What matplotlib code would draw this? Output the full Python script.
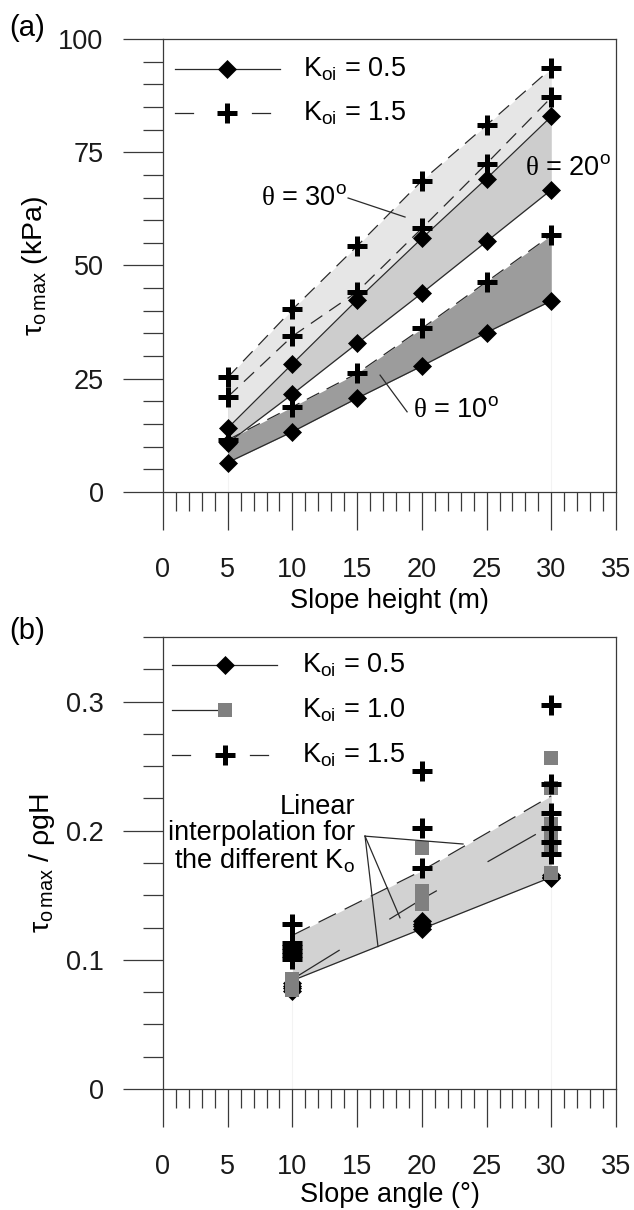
import matplotlib
matplotlib.use("Agg")
import matplotlib.pyplot as plt
from matplotlib.ticker import MultipleLocator, FuncFormatter

plt.rcParams['font.family'] = ['Liberation Sans', 'DejaVu Sans']
plt.rcParams['mathtext.fontset'] = 'custom'
plt.rcParams['mathtext.rm'] = 'Liberation Sans'
plt.rcParams['mathtext.it'] = 'Liberation Sans:italic'
plt.rcParams['mathtext.bf'] = 'Liberation Sans:bold'
plt.rcParams['mathtext.sf'] = 'Liberation Serif'
plt.rcParams['lines.scale_dashes'] = False

# ---- (a) maximum shear stress vs slope height ----
heights = [5, 10, 15, 20, 25, 30]
tau_t10_k05 = [6.5, 13.3, 20.7, 27.8, 35.2, 42.2]
tau_t10_k15 = [11.5, 18.8, 26.2, 36.1, 46.4, 56.7]
tau_t20_k05 = [10.8, 21.6, 32.8, 43.9, 55.3, 66.7]
tau_t20_k15 = [21.0, 34.4, 44.2, 58.2, 72.5, 87.1]
tau_t30_k05 = [14.1, 28.3, 42.4, 56.0, 69.2, 82.9]
tau_t30_k15 = [25.3, 40.3, 54.3, 68.7, 81.0, 93.5]

# ---- (b) normalised shear stress vs slope angle ----
k05_ang = [10, 10, 10, 10, 20, 20, 20, 20, 30, 30, 30]
k05_val = [0.076, 0.078, 0.080, 0.082, 0.124, 0.126, 0.128, 0.130, 0.163, 0.164, 0.166]
k10_ang = [10, 10, 10, 10, 10, 20, 20, 20, 20, 20, 30, 30, 30, 30, 30, 30]
k10_val = [0.077, 0.079, 0.081, 0.083, 0.085, 0.187, 0.153, 0.149, 0.146, 0.143,
           0.256, 0.233, 0.205, 0.195, 0.185, 0.167]
k15_ang = [10, 10, 10, 10, 10, 10, 20, 20, 20, 30, 30, 30, 30, 30, 30]
k15_val = [0.128, 0.113, 0.110, 0.107, 0.104, 0.101, 0.246, 0.202, 0.171,
           0.297, 0.236, 0.214, 0.202, 0.191, 0.182]
interp_ang = [10, 20, 30]
interp_k05 = [0.084, 0.124, 0.164]
interp_k10 = [0.085, 0.147, 0.204]
interp_k15 = [0.119, 0.169, 0.227]

FS = 19.5
LC = '#2a2a2a'
LW = 0.9
DASH_A = (0, (10, 6))
DASH_B = (0, (14, 7))
DASH_K10 = (0, (40, 42))

diamond = dict(marker='D', ms=9.5, mfc='black', mec='black', mew=0.5, ls='none')
plus = dict(marker='+', ms=14, mec='black', mew=3.6, ls='none')
square = dict(marker='s', ms=10, mfc='#808080', mec='#808080', mew=0, ls='none')

fig = plt.figure(figsize=(6.34, 12.10), dpi=100)
W, H = 634, 1210
L, R = 163, 616
ax_a = fig.add_axes([L / W, 1 - 492 / H, (R - L) / W, (492 - 39) / H])
ax_b = fig.add_axes([L / W, 1 - 1089 / H, (R - L) / W, (1089 - 637) / H])


def style_axes(ax, ymajor, yminor):
    ax.set_xlim(0, 35)
    ax.xaxis.set_major_locator(MultipleLocator(5))
    ax.xaxis.set_minor_locator(MultipleLocator(1))
    ax.yaxis.set_major_locator(MultipleLocator(ymajor))
    ax.yaxis.set_minor_locator(MultipleLocator(yminor))
    for s in ax.spines.values():
        s.set_color('#3a3a3a')
        s.set_linewidth(0.9)
    ax.tick_params(axis='both', which='both', direction='out', color='#3a3a3a',
                   width=0.9, labelsize=FS, labelcolor='#1a1a1a', top=False, right=False)
    ax.tick_params(axis='x', which='major', length=27.5, pad=19)
    ax.tick_params(axis='x', which='minor', length=13.5)
    ax.tick_params(axis='y', which='major', length=28.8, pad=14)
    ax.tick_params(axis='y', which='minor', length=14.4)


# ===== panel (a) =====
ax = ax_a
style_axes(ax, 25, 5)
ax.set_ylim(0, 100)

ax.fill_between(heights, tau_t10_k05, tau_t10_k15, color='#9c9c9c', lw=0, zorder=1)
ax.fill_between(heights, tau_t20_k05, tau_t20_k15, color='#cdcdcd', lw=0, zorder=1.1)
ax.fill_between(heights, tau_t30_k05, tau_t30_k15, color='#e6e6e6', lw=0, zorder=1.2)
ax.vlines([heights[0], heights[-1]], 0, [tau_t10_k05[0], tau_t10_k05[-1]],
          color='#f3f3f3', lw=0.8, zorder=0.5)

for low, high in [(tau_t10_k05, tau_t10_k15), (tau_t20_k05, tau_t20_k15),
                  (tau_t30_k05, tau_t30_k15)]:
    ax.plot(heights, low, color=LC, lw=LW, zorder=2)
    ax.plot(heights, high, color=LC, lw=LW, ls=DASH_A, zorder=2)
for low in (tau_t10_k05, tau_t20_k05, tau_t30_k05):
    ax.plot(heights, low, zorder=3, **diamond)
for high in (tau_t10_k15, tau_t20_k15, tau_t30_k15):
    ax.plot(heights, high, zorder=4, **plus)

ax.text(14.2, 65.0, r'$\mathsf{\theta}$ = 30$^{\mathrm{o}}$', fontsize=FS,
        ha='right', va='center')
ax.plot([14.3, 18.7], [64.9, 60.7], color=LC, lw=LW, zorder=5)
ax.text(28.0, 71.5, r'$\mathsf{\theta}$ = 20$^{\mathrm{o}}$', fontsize=FS,
        ha='left', va='center', clip_on=False)
ax.text(19.3, 18.1, r'$\mathsf{\theta}$ = 10$^{\mathrm{o}}$', fontsize=FS,
        ha='left', va='center')
ax.plot([16.77, 18.86], [25.8, 17.7], color=LC, lw=LW, zorder=5)

# legend drawn in axes fraction
tr = ax.transAxes
ax.plot([0.0265, 0.258], [0.934, 0.934], color=LC, lw=LW, transform=tr)
ax.plot([0.141], [0.934], transform=tr, **diamond)
ax.text(0.309, 0.934, r'$\mathrm{K_{oi}}$ = 0.5', transform=tr, fontsize=FS, va='center')
ax.plot([0.0265, 0.066], [0.837, 0.837], color=LC, lw=LW, transform=tr)
ax.plot([0.197, 0.236], [0.837, 0.837], color=LC, lw=LW, transform=tr)
ax.plot([0.141], [0.837], transform=tr, **plus)
ax.text(0.309, 0.837, r'$\mathrm{K_{oi}}$ = 1.5', transform=tr, fontsize=FS, va='center')

ax.set_xlabel('Slope height (m)', fontsize=FS, labelpad=4)
ax.set_ylabel(r'$\mathrm{\tau_{o\,max}}$ (kPa)', fontsize=FS + 1, labelpad=6)
fig.text(9 / W, 1 - 28 / H, '(a)', fontsize=FS + 1.5, ha='left', va='center')

# ===== panel (b) =====
ax = ax_b
style_axes(ax, 0.1, 0.025)
ax.set_ylim(0, 0.35)
ax.yaxis.set_major_formatter(FuncFormatter(lambda v, p: '0' if abs(v) < 1e-9 else f'{v:.1f}'))

ax.fill_between(interp_ang, interp_k05, interp_k15, color='#d2d2d2', lw=0, zorder=1)
ax.vlines([interp_ang[0], interp_ang[-1]], 0, [min(k05_val[:4]), min(k05_val[-3:])],
          color='#f3f3f3', lw=0.8, zorder=0.5)
ax.plot(interp_ang, interp_k05, color=LC, lw=LW, zorder=2)
ax.plot(interp_ang, interp_k10, color=LC, lw=LW, ls=DASH_K10, zorder=2)
ax.plot(interp_ang, interp_k15, color=LC, lw=LW, ls=DASH_B, zorder=2)

ax.plot(k05_ang, k05_val, zorder=3, **diamond)
ax.plot(k10_ang, k10_val, zorder=4, **square)
ax.plot(k15_ang, k15_val, zorder=5, **plus)

ax.text(14.84, 0.197, 'Linear\ninterpolation for\nthe different $\\mathrm{K_o}$',
        fontsize=FS, ha='right', va='center', multialignment='right', linespacing=1.02)
for xe, ye in [(23.18, 0.1897), (18.31, 0.1326), (16.61, 0.1103)]:
    ax.plot([15.61, xe], [0.1958, ye], color=LC, lw=LW, zorder=6)

tr = ax.transAxes
ax.plot([0.02, 0.252], [0.938, 0.938], color=LC, lw=LW, transform=tr)
ax.plot([0.137], [0.938], transform=tr, **diamond)
ax.text(0.307, 0.938, r'$\mathrm{K_{oi}}$ = 0.5', transform=tr, fontsize=FS, va='center')
ax.plot([0.02, 0.125], [0.838, 0.838], color=LC, lw=LW, transform=tr)
ax.plot([0.137], [0.838], transform=tr, **square)
ax.text(0.307, 0.838, r'$\mathrm{K_{oi}}$ = 1.0', transform=tr, fontsize=FS, va='center')
ax.plot([0.02, 0.06], [0.739, 0.739], color=LC, lw=LW, transform=tr)
ax.plot([0.192, 0.232], [0.739, 0.739], color=LC, lw=LW, transform=tr)
ax.plot([0.137], [0.739], transform=tr, **plus)
ax.text(0.307, 0.739, r'$\mathrm{K_{oi}}$ = 1.5', transform=tr, fontsize=FS, va='center')

ax.set_xlabel('Slope angle (°)', fontsize=FS, labelpad=2)
ax.set_ylabel(r'$\mathrm{\tau_{o\,max}}$ / $\mathrm{\rho}$gH', fontsize=FS + 1, labelpad=6)
fig.text(9 / W, 1 - 631 / H, '(b)', fontsize=FS + 1.5, ha='left', va='center')

fig.savefig('out.png', dpi=100)
